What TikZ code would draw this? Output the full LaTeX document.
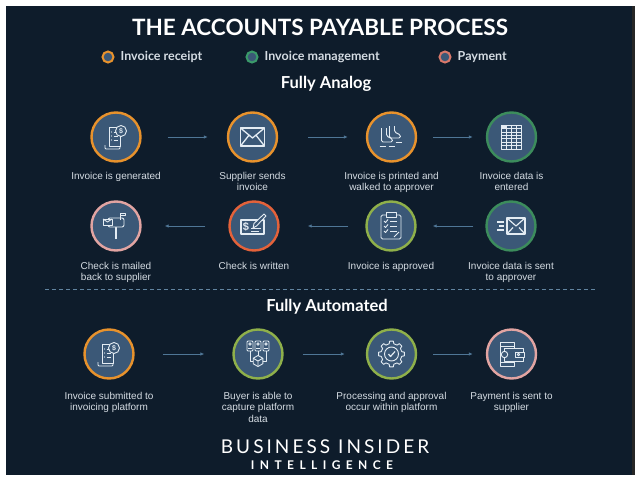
\documentclass[tikz,border=0pt]{standalone}
\usepackage{fontspec}
\setmainfont{Liberation Sans}
\newfontfamily\headfont{Lato}
\usetikzlibrary{positioning,arrows.meta}
\tikzset{>={Latex[length=4pt,width=3.5pt]}}

\definecolor{navy}{HTML}{0E1C2B}
\definecolor{disc}{HTML}{3B5877}
\definecolor{iconw}{HTML}{E4ECF3}
\definecolor{receiptorange}{HTML}{E8922C}
\definecolor{managegreen}{HTML}{3C8C5C}
\definecolor{limegreen}{HTML}{8FB04A}
\definecolor{paypink}{HTML}{E2A4A2}
\definecolor{payred}{HTML}{E4623A}
\definecolor{keygreen}{HTML}{3A9A6A}
\definecolor{keysalmon}{HTML}{D8786A}
\definecolor{arrowblue}{HTML}{4F7696}
\definecolor{labelgrey}{HTML}{D5DCE3}

\tikzset{
    icon/.style={draw=iconw, line width=0.9pt, line join=round},
    pics/receipt/.style={code={
        \draw[icon] (-7,-9) rectangle (4,10);
        \draw[icon, rounded corners=1] (-11,-8) -- (-11,-12) -- (4,-12) -- (4,-9);
        \foreach \yy in {5,1,-3} {
            \fill[iconw] (-4.5,\yy) circle (0.7);
            \draw[icon] (-2.5,\yy) -- (1.5,\yy);
        }
        \draw[icon, fill=disc] (5,6) circle (5.5);
        \node[text=iconw, font=\fontsize{7}{7}\selectfont\bfseries] (-d) at (5,6) {\$};
    }},
    pics/envelope/.style={code={
        \draw[icon, line width=1.3pt] (-12,-9) rectangle (12,9);
        \draw[icon, line width=1.3pt] (-12,9) -- (0,-1) -- (12,9)
            (-12,-9) -- (-3.5,1.8) (12,-9) -- (3.5,1.8);
    }},
    pics/footsteps/.style={code={
        \draw[icon, rounded corners=1.5] (-10,9) -- (-10,-5) -- (1,-5) -- (1,-2) -- (-5,1) -- (-5,9);
        \draw[icon, rounded corners=1.5] (-2,11) -- (-2,-1) -- (9,-1) -- (9,2) -- (3,5) -- (3,11);
        \draw[icon] (-12,-9) -- (-6,-9) (-3,-9) -- (3,-9) (4,-5) -- (10,-5);
    }},
    pics/sheet/.style={code={
        \draw[icon] (-10,-12) rectangle (10,12);
        \foreach \yy in {1,...,6}
            \draw[icon, line width=0.6pt] (-10,{12-\yy*24/7}) -- (10,{12-\yy*24/7});
        \foreach \xx in {1,2,3}
            \draw[icon, line width=0.6pt] ({-10+\xx*5},-12) -- ({-10+\xx*5},12);
        \fill[iconw] (-10,12) rectangle (-5,8.6);
    }},
    pics/mailbox/.style={code={
        \draw[icon, line width=2pt] (0,-13) -- (0,-1);
        \draw[icon, fill=disc, rounded corners=2] (-8,-1) rectangle (8,8);
        \draw[icon] (4,6) -- (4,13) -- (9,13) -- (9,10.5) -- (4,10.5);
        \draw[icon, fill=disc] (-13,1) rectangle (-4,7);
        \draw[icon] (-13,7) -- (-8.5,4) -- (-4,7);
    }},
    pics/cheque/.style={code={
        \draw[icon, line width=1.2pt] (-13,-8) rectangle (10,6);
        \node[text=iconw, font=\fontsize{11}{11}\selectfont\bfseries] (-s) at (-8,-1) {\$};
        \draw[icon] (-3,-2.5) -- (7,-2.5) (-3,-5.5) -- (5,-5.5);
        \draw[icon, fill=disc] (-1,-2) -- (2.5,0) -- (12,10) -- (10,12) -- (0,2.5) -- cycle;
    }},
    pics/clipboard/.style={code={
        \draw[icon, rounded corners=1.5] (-10,-13) rectangle (10,11);
        \draw[icon, fill=disc] (-5,9) rectangle (5,14);
        \foreach \yy in {5,0,-5} {
            \draw[icon] (-7,\yy) -- (-5.5,\yy-1.5) -- (-3,\yy+1.5);
            \draw[icon] (-1,\yy) -- (6,\yy);
        }
        \draw[icon] (3,-11) -- (8,-6);
    }},
    pics/sendmail/.style={code={
        \draw[icon, line width=1.2pt] (-4,-8) rectangle (14,8);
        \draw[icon, line width=1.2pt] (-4,8) -- (5,0) -- (14,8)
            (-4,-8) -- (2,-1.5) (14,-8) -- (8,-1.5);
        \foreach \yy/\xx in {4/-14,0/-12,-4/-14}
            \draw[icon, line width=1.2pt] (\xx,\yy) -- (-7,\yy);
    }},
    pics/servers/.style={code={
        \foreach \xx in {-8,0,8} {
            \draw[icon, rounded corners=1] (\xx-3,3) rectangle (\xx+3,13);
            \draw[icon] (\xx,10) circle (1.3);
            \draw[icon] (\xx-2,6) -- (\xx+2,6);
        }
        \draw[icon] (-8,3) -- (-8,-7) -- (-4.8,-7) (8,3) -- (8,-7) -- (4.8,-7) (0,3) -- (0,-1.5);
        \draw[icon] (0,-1.5) -- (4.8,-4.25) -- (4.8,-9.75) -- (0,-12.5) -- (-4.8,-9.75) -- (-4.8,-4.25) -- cycle;
        \draw[icon] (-4.8,-4.25) -- (0,-7) -- (4.8,-4.25) (0,-7) -- (0,-12.5);
    }},
    pics/gear/.style={code={
        \draw[icon] ({-13}:10.5) \foreach \i in {0,...,7} {
            -- ({\i*45-13}:10.5) -- ({\i*45-8}:13) -- ({\i*45+8}:13) -- ({\i*45+13}:10.5)
        } -- cycle;
        \draw[icon] (0,0) circle (7);
        \draw[icon, line width=1.2pt] (-3,0) -- (-1,-2.5) -- (3.5,2.5);
    }},
    pics/wallet/.style={code={
        \draw[icon] (-11,-12) rectangle (3,12);
        \draw[icon] (-11,8) -- (3,8) (-11,-8) -- (3,-8);
        \draw[icon, fill=disc] (-7,-7) rectangle (12,6);
        \draw[icon, fill=disc] (4,-3) rectangle (13,2);
        \draw[icon] (7,-0.5) circle (1.3);
        \draw[icon, fill=disc] (-7,-0.5) circle (3.2);
    }}
}

\begin{document}
\begin{tikzpicture}[
    x=1pt, y=1pt,
    stepnode/.style={circle, draw=#1, line width=2.4pt, fill=disc, minimum size=49pt, inner sep=0pt},
    caption/.style={text=labelgrey, font=\fontsize{10}{11.5}\selectfont, align=center, inner sep=0pt},
    flow/.style={->, draw=arrowblue, line width=1pt},
    gap/.style 2 args={shorten <=#1, shorten >=#2},
    key/.style={circle, draw=#1, line width=2pt, fill=disc, minimum size=11pt, inner sep=0pt},
    keytext/.style={text=labelgrey, font=\headfont\bfseries\fontsize{12.5}{14}\selectfont, inner sep=0pt},
    heading/.style={text=white, font=\headfont\bfseries\fontsize{16.5}{18}\selectfont}
]
    % Frame
    \useasboundingbox (0,0) rectangle (640,-479);
    \fill[white] (0,0) rectangle (640,-479);
    \fill[navy] (6,-6) rectangle (632,-475);
    \fill[black!85] (632,-6) rectangle (635,-475);

    % Title and key
    \node[text=white, font=\headfont\bfseries\fontsize{22.5}{26}\selectfont] (Title) at (320,-27) {THE ACCOUNTS PAYABLE PROCESS};
    \node[key=receiptorange] (KeyReceipt) at (108,-57) {};
    \node[keytext, right=6pt of KeyReceipt] (KeyReceiptText) {Invoice receipt};
    \node[key=keygreen] (KeyManage) at (252,-57) {};
    \node[keytext, right=6pt of KeyManage] (KeyManageText) {Invoice management};
    \node[key=keysalmon] (KeyPay) at (445,-57) {};
    \node[keytext, right=6pt of KeyPay] (KeyPayText) {Payment};

    % Fully analog
    \node[heading] (Analog) at (326,-84) {Fully Analog};

    \node[stepnode=receiptorange] (Generated) at (116,-137) {};
    \node[stepnode=receiptorange] (Sends) at (252.5,-137) {};
    \node[stepnode=receiptorange] (Walked) at (391.5,-137) {};
    \node[stepnode=managegreen] (Entered) at (511.5,-137) {};
    \node[stepnode=managegreen] (DataSent) at (511,-226) {};
    \node[stepnode=limegreen] (Approved) at (391,-226) {};
    \node[stepnode=payred] (Written) at (254,-226) {};
    \node[stepnode=paypink] (Mailed) at (116,-226) {};

    \pic at (Generated) {receipt};
    \pic at (Sends) {envelope};
    \pic at (Walked) {footsteps};
    \pic at (Entered) {sheet};
    \pic at (DataSent) {sendmail};
    \pic at (Approved) {clipboard};
    \pic at (Written) {cheque};
    \pic at (Mailed) {mailbox};

    \node[caption, below=9pt of Generated] (GeneratedText) {Invoice is generated};
    \node[caption, below=9pt of Sends] (SendsText) {Supplier sends\\invoice};
    \node[caption, below=9pt of Walked] (WalkedText) {Invoice is printed and\\walked to approver};
    \node[caption, below=9pt of Entered] (EnteredText) {Invoice data is\\entered};
    \node[caption, below=10pt of DataSent] (DataSentText) {Invoice data is sent\\to approver};
    \node[caption, below=10pt of Approved] (ApprovedText) {Invoice is approved};
    \node[caption, below=10pt of Written] (WrittenText) {Check is written};
    \node[caption, below=10pt of Mailed] (MailedText) {Check is mailed\\back to supplier};

    \draw[flow, gap={26pt}{19pt}] (Generated) -- (Sends);
    \draw[flow, gap={30pt}{18pt}] (Sends) -- (Walked);
    \draw[flow, gap={16pt}{13pt}] (Walked) -- (Entered);
    \draw[flow, gap={12pt}{16pt}] (DataSent) -- (Approved);
    \draw[flow, gap={17pt}{28pt}] (Approved) -- (Written);
    \draw[flow, gap={23pt}{23pt}] (Written) -- (Mailed);

    % Divider
    \coordinate (DivLeft) at (45,-289);
    \coordinate (DivRight) at (597,-289);
    \draw[arrowblue!90!white, line width=0.8pt, dash pattern=on 4pt off 3pt] (DivLeft) -- (DivRight);

    % Fully automated
    \node[heading] (Automated) at (327,-307) {Fully Automated};

    \node[stepnode=receiptorange] (Submitted) at (109,-354) {};
    \node[stepnode=limegreen] (Capture) at (258,-354) {};
    \node[stepnode=limegreen] (Processing) at (391.5,-354) {};
    \node[stepnode=paypink] (Paid) at (511.5,-354) {};

    \pic at (Submitted) {receipt};
    \pic at (Capture) {servers};
    \pic at (Processing) {gear};
    \pic at (Paid) {wallet};

    \node[caption, below=12pt of Submitted] (SubmittedText) {Invoice submitted to\\invoicing platform};
    \node[caption, below=12pt of Capture] (CaptureText) {Buyer is able to\\capture platform\\data};
    \node[caption, below=12pt of Processing] (ProcessingText) {Processing and approval\\occur within platform};
    \node[caption, below=12pt of Paid] (PaidText) {Payment is sent to\\supplier};

    \draw[flow, gap={28pt}{28pt}] (Submitted) -- (Capture);
    \draw[flow, gap={19pt}{21pt}] (Capture) -- (Processing);
    \draw[flow, gap={16pt}{13pt}] (Processing) -- (Paid);

    % Logo
    \node[text=white, font=\headfont\addfontfeature{LetterSpace=16}\fontsize{19}{20}\selectfont] (Logo) at (325,-447) {BUSINESS INSIDER};
    \node[text=white, font=\headfont\bfseries\addfontfeature{LetterSpace=45}\fontsize{12}{13}\selectfont] (LogoSub) at (322,-465) {INTELLIGENCE};
\end{tikzpicture}
\end{document}
